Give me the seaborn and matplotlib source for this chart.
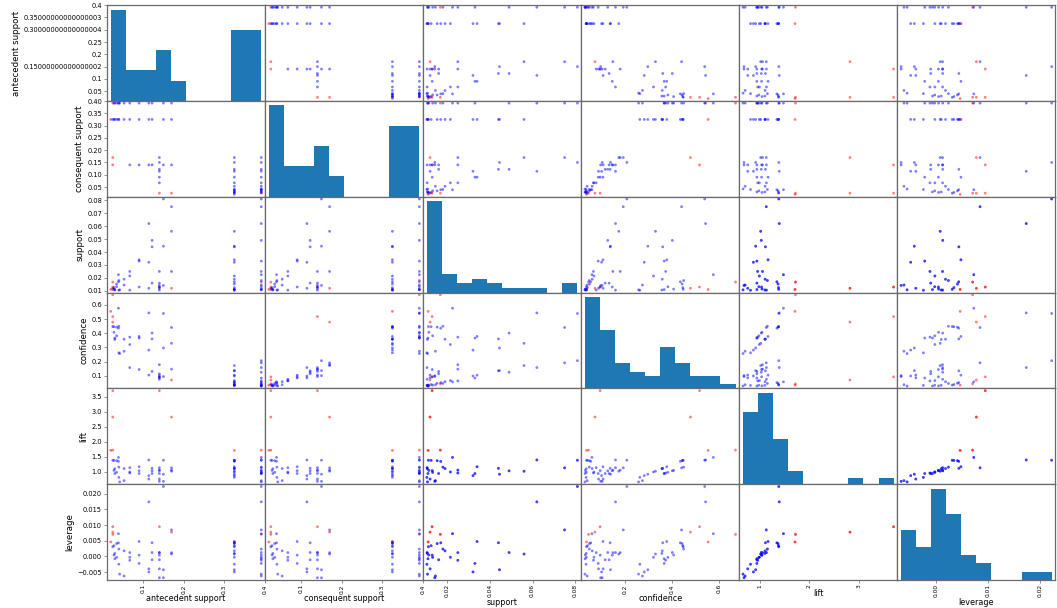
import numpy as np
import pandas as pd
import matplotlib
matplotlib.use("Agg")
import matplotlib.pyplot as plt
from matplotlib.ticker import FixedLocator
import seaborn as sns

# Association-rule metrics, one entry per rule (rules come in A->B / B->A pairs)
column_names = ["antecedent support", "consequent support", "support",
                "confidence", "lift", "leverage"]

antecedent_support = [
    0.325, 0.17, 0.325, 0.15, 0.325, 0.122, 0.325, 0.114, 0.325, 0.09, 0.325, 0.067,
    0.3915, 0.17, 0.3915, 0.15, 0.3915, 0.122, 0.3915, 0.114, 0.3915, 0.09, 0.3915, 0.067,
    0.325, 0.02, 0.325, 0.025, 0.3915, 0.025, 0.17, 0.025, 0.14, 0.025,
    0.325, 0.028, 0.3915, 0.028, 0.325, 0.03, 0.3915, 0.03, 0.325, 0.0345, 0.3915, 0.0345,
    0.3915, 0.039, 0.325, 0.039, 0.3915, 0.04, 0.325, 0.04, 0.3915, 0.042,
    0.325, 0.053, 0.3915, 0.053,
    0.14, 0.17, 0.14, 0.15, 0.14, 0.122, 0.14, 0.114, 0.14, 0.09, 0.14, 0.067,
]
consequent_support = [
    0.17, 0.325, 0.15, 0.325, 0.122, 0.325, 0.114, 0.325, 0.09, 0.325, 0.067, 0.325,
    0.17, 0.3915, 0.15, 0.3915, 0.122, 0.3915, 0.114, 0.3915, 0.09, 0.3915, 0.067, 0.3915,
    0.02, 0.325, 0.025, 0.325, 0.025, 0.3915, 0.025, 0.17, 0.025, 0.14,
    0.028, 0.325, 0.028, 0.3915, 0.03, 0.325, 0.03, 0.3915, 0.0345, 0.325, 0.0345, 0.3915,
    0.039, 0.3915, 0.039, 0.325, 0.04, 0.3915, 0.04, 0.325, 0.042, 0.3915,
    0.053, 0.325, 0.053, 0.3915,
    0.17, 0.14, 0.15, 0.14, 0.122, 0.14, 0.114, 0.14, 0.09, 0.14, 0.067, 0.14,
]
support = [
    0.056, 0.056, 0.0445, 0.0445, 0.044, 0.044, 0.0321, 0.0321, 0.034, 0.034, 0.0215, 0.0215,
    0.075, 0.075, 0.081, 0.081, 0.049, 0.049, 0.062, 0.062, 0.033, 0.033, 0.025, 0.025,
    0.0111, 0.0111, 0.0112, 0.0112, 0.0168, 0.0168, 0.01198, 0.01198, 0.01295, 0.01295,
    0.0125, 0.0125, 0.0114, 0.0114, 0.0107, 0.0107, 0.011, 0.011, 0.0153, 0.0153, 0.0132, 0.0132,
    0.0225, 0.0225, 0.017, 0.017, 0.018, 0.018, 0.0105, 0.0105, 0.0108, 0.0108,
    0.019, 0.019, 0.0145, 0.0145,
    0.025, 0.025, 0.0142, 0.0142, 0.016, 0.016, 0.012, 0.012, 0.013, 0.013, 0.0106, 0.0106,
]
confidence = [
    0.17231, 0.32941, 0.13692, 0.29667, 0.13538, 0.36066, 0.09877, 0.28158, 0.10462, 0.37778, 0.06615, 0.32090,
    0.19157, 0.44118, 0.20690, 0.54, 0.12516, 0.40164, 0.15837, 0.54386, 0.08429, 0.36667, 0.06386, 0.37313,
    0.03415, 0.555, 0.03446, 0.448, 0.04291, 0.672, 0.07047, 0.4792, 0.0925, 0.518,
    0.03846, 0.44643, 0.02912, 0.40714, 0.03292, 0.35667, 0.0281, 0.36667, 0.04708, 0.44348, 0.03372, 0.38261,
    0.05747, 0.57692, 0.05231, 0.4359, 0.04598, 0.45, 0.03231, 0.2625, 0.02759, 0.25714,
    0.05846, 0.35849, 0.03704, 0.27358,
    0.17857, 0.14706, 0.10143, 0.09467, 0.11429, 0.13115, 0.08571, 0.10526, 0.09286, 0.14444, 0.07571, 0.15821,
]
lift = [
    1.01357, 1.01357, 0.91282, 0.91282, 1.10971, 1.10971, 0.86640, 0.86640, 1.16239, 1.16239, 0.98737, 0.98737,
    1.12689, 1.12689, 1.37931, 1.37931, 1.02590, 1.02590, 1.38917, 1.38917, 0.93657, 0.93657, 0.95309, 0.95309,
    1.70769, 1.70769, 1.37846, 1.37846, 1.71648, 1.71648, 2.81882, 2.81882, 3.70, 3.70,
    1.37363, 1.37363, 1.03996, 1.03996, 1.09744, 1.09744, 0.93657, 0.93657, 1.36455, 1.36455, 0.97729, 0.97729,
    1.47362, 1.47362, 1.34122, 1.34122, 1.14943, 1.14943, 0.80769, 0.80769, 0.65681, 0.65681,
    1.10305, 1.10305, 0.69881, 0.69881,
    1.05042, 1.05042, 0.67619, 0.67619, 0.93677, 0.93677, 0.75188, 0.75188, 1.03175, 1.03175, 1.13006, 1.13006,
]
leverage = [
    0.00075, 0.00075, -0.00425, -0.00425, 0.00435, 0.00435, -0.00495, -0.00495, 0.00475, 0.00475, -0.000275, -0.000275,
    0.008445, 0.008445, 0.022275, 0.022275, 0.001237, 0.001237, 0.017369, 0.017369, -0.002235, -0.002235, -0.00123, -0.00123,
    0.0046, 0.0046, 0.003075, 0.003075, 0.007013, 0.007013, 0.00773, 0.00773, 0.00945, 0.00945,
    0.0034, 0.0034, 0.000438, 0.000438, 0.00095, 0.00095, -0.000745, -0.000745, 0.004088, 0.004088, -0.000307, -0.000307,
    0.007232, 0.007232, 0.004325, 0.004325, 0.00234, 0.00234, -0.0025, -0.0025, -0.005643, -0.005643,
    0.001775, 0.001775, -0.00625, -0.00625,
    0.0012, 0.0012, -0.0068, -0.0068, -0.00108, -0.00108, -0.00396, -0.00396, 0.0004, 0.0004, 0.00122, 0.00122,
]

# Tick positions for the outer axes
x_ticks = {
    "antecedent support": [0.1, 0.2, 0.3, 0.4],
    "consequent support": [0.1, 0.2, 0.3, 0.4],
    "support": [0.02, 0.04, 0.06, 0.08],
    "confidence": [0.2, 0.4, 0.6],
    "lift": [1, 2, 3],
    "leverage": [0.00, 0.01, 0.02],
}
y_ticks = {
    "consequent support": [0.05, 0.10, 0.15, 0.20, 0.25, 0.30, 0.35, 0.40],
    "support": [0.01, 0.02, 0.03, 0.04, 0.05, 0.06, 0.07, 0.08],
    "confidence": [0.1, 0.2, 0.3, 0.4, 0.5, 0.6],
    "lift": [1.0, 1.5, 2.0, 2.5, 3.0, 3.5],
    "leverage": [-0.005, 0.000, 0.005, 0.010, 0.015, 0.020],
}
# The top-left histogram carries the antecedent-support scale on its y axis
corner_tick_values = [0.05, 0.1, 0.15, 0.2, 0.25, 0.3, 0.35, 0.4]
corner_tick_labels = ["0.05", "0.1", "0.15000000000000002", "0.2", "0.25",
                      "0.30000000000000004", "0.35000000000000003", "0.4"]

rules = pd.DataFrame({
    "antecedent support": antecedent_support,
    "consequent support": consequent_support,
    "support": support,
    "confidence": confidence,
    "lift": lift,
    "leverage": leverage,
})
strong_rule = rules["lift"] > 1.5

Y_TICK_SIZE = 4.8
X_TICK_SIZE = 4.2
Y_LABEL_SIZE = 6.2
X_LABEL_SIZE = 5.8
SPINE_COLOR = "#6a6a6a"

n = len(column_names)
fig, axes = plt.subplots(n, n, figsize=(10.57, 6.08), dpi=100)
fig.subplots_adjust(left=0.1012, right=0.9985, bottom=0.046, top=0.9918,
                    wspace=0, hspace=0)

limits = {}
for name in column_names:
    lo, hi = rules[name].min(), rules[name].max()
    pad = (hi - lo) * 0.05 / 2.0
    limits[name] = (lo - pad, hi + pad)

for i, row_name in enumerate(column_names):
    for j, col_name in enumerate(column_names):
        ax = axes[i, j]
        if i == j:
            sns.histplot(x=rules[col_name], bins=10, ax=ax, color="#1f77b4",
                         alpha=1.0, linewidth=0)
            ax.set_xlim(limits[col_name])
        else:
            sns.scatterplot(x=rules[col_name], y=rules[row_name], hue=strong_rule,
                            palette={True: "red", False: "blue"}, marker="o",
                            s=4, alpha=0.5, linewidth=0, legend=False, ax=ax)
            ax.set_xlim(limits[col_name])
            ax.set_ylim(limits[row_name])

        ax.set_xlabel(col_name, fontsize=X_LABEL_SIZE, labelpad=0.5)
        ax.set_ylabel(row_name, fontsize=Y_LABEL_SIZE, labelpad=2)
        ax.tick_params(axis="y", labelsize=Y_TICK_SIZE, length=2, width=0.5,
                       pad=1.5, color=SPINE_COLOR)
        ax.tick_params(axis="x", labelsize=X_TICK_SIZE, length=2, width=0.5,
                       pad=1.0, color=SPINE_COLOR)
        for spine in ax.spines.values():
            spine.set_color(SPINE_COLOR)
            spine.set_linewidth(0.9)

        if j != 0:
            ax.yaxis.set_visible(False)
        elif i != 0:
            ax.yaxis.set_major_locator(FixedLocator(y_ticks[row_name]))
        if i != n - 1:
            ax.xaxis.set_visible(False)
        else:
            ax.xaxis.set_major_locator(FixedLocator(x_ticks[col_name]))
            for lab in ax.get_xticklabels():
                lab.set_rotation(90)

# Map antecedent-support values onto the count scale of the first histogram
corner = axes[0, 0]
lo, hi = limits["antecedent support"]
c0, c1 = corner.get_ylim()
locs = np.array(corner_tick_values)
keep = (locs >= lo) & (locs <= hi)
positions = (locs[keep] - lo) / (hi - lo) * (c1 - c0) + c0
corner.yaxis.set_major_locator(FixedLocator(positions))
corner.set_yticklabels([t for t, k in zip(corner_tick_labels, keep) if k])
corner.tick_params(axis="y", labelsize=Y_TICK_SIZE)

fig.savefig("out.png", dpi=100)
